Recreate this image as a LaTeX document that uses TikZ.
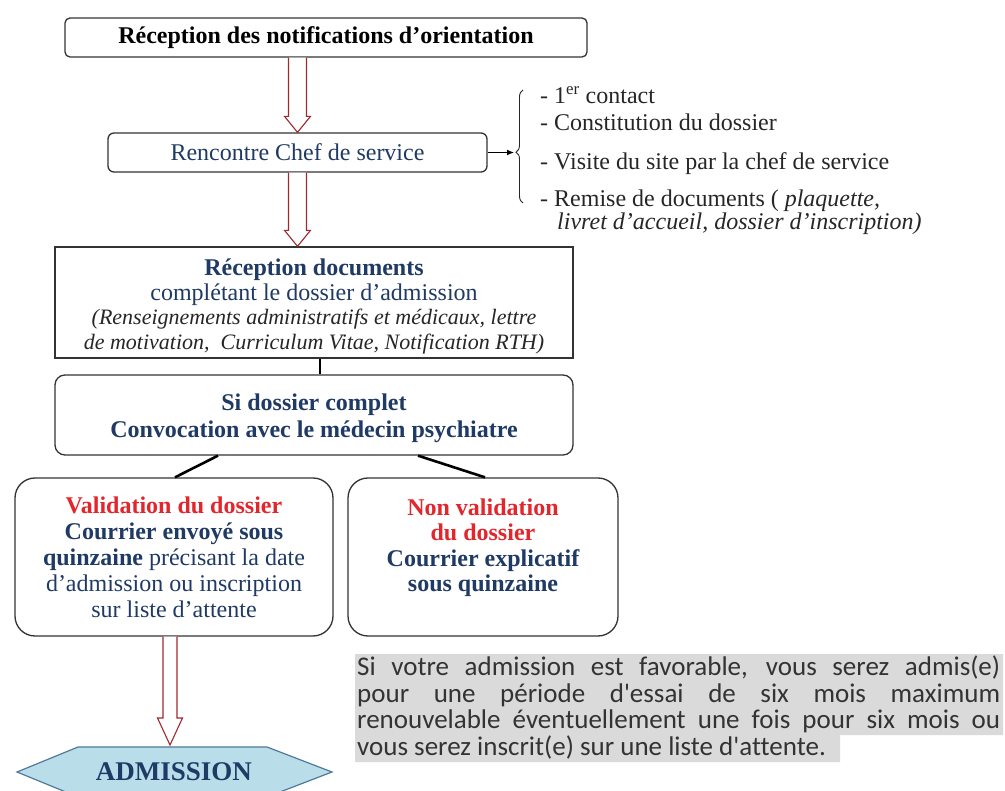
\documentclass[tikz,border=0pt]{standalone}
\usepackage{fontspec}
\setmainfont{Liberation Serif}
\newfontfamily\parafont[Ligatures=NoCommon]{Carlito}
\usetikzlibrary{arrows.meta,decorations.pathreplacing,calc}
\definecolor{txtblue}{HTML}{1F3A64}
\definecolor{txtred}{HTML}{E2262C}
\definecolor{arrred}{HTML}{9E2A2F}
\definecolor{hexfill}{HTML}{B9DEEA}
\definecolor{hexline}{HTML}{4F7A9A}
\definecolor{paragrey}{HTML}{DADADA}
\definecolor{boxline}{HTML}{333333}
\newcommand\hollowarrow[5]{%
  \draw[hollow] let \p1=(#1), \p2=(#2) in
    (\x2-#3pt,\y1) -- (\x2-#3pt,\y2+#5pt) -- (\x2-#4pt,\y2+#5pt) -- (\x2,\y2)
    -- (\x2+#4pt,\y2+#5pt) -- (\x2+#3pt,\y2+#5pt) -- (\x2+#3pt,\y1);}
\begin{document}
\begin{tikzpicture}[x=1pt,y=-1pt,
  box/.style={draw=boxline, line width=1.3pt, fill=white, inner sep=0pt, align=center},
  big/.style={font=\fontsize{24}{26}\selectfont},
  intext/.style={inner sep=0pt, align=center},
  hollow/.style={draw=arrred, line width=1.1pt, fill=white, line join=miter},
  link/.style={draw=black, line width=2.6pt},
  listtxt/.style={anchor=west, inner sep=0pt, text=black!85, font=\fontsize{24}{26}\selectfont},
]
\useasboundingbox (0,0) rectangle (1005,791);
\clip (0,0) rectangle (1005,791);

% boxes
\node[box, rounded corners=5pt, minimum width=522pt, minimum height=39pt, big] (top) at (326,37.5)
  {\bfseries Réception des notifications d’orientation};
\node[box, rounded corners=6pt, minimum width=379pt, minimum height=39pt, big, text=txtblue] (ren) at (297.5,152.5)
  {Rencontre Chef de service};

\node[box, minimum width=518pt, minimum height=111pt] (rec) at (314,302.5) {};
\node[intext, text=txtblue, font=\fontsize{24}{24.5}\selectfont] (rect) at ($(rec.center)+(0,4)$)
  {\bfseries Réception documents\\
   complétant le dossier d’admission\\
   {\color{black!85}\fontsize{22}{24.5}\selectfont\itshape (Renseignements administratifs et médicaux, lettre}\\
   {\color{black!85}\fontsize{22}{24.5}\selectfont\itshape de motivation,\ \ Curriculum Vitae, Notification RTH)}};

\node[box, rounded corners=10pt, minimum width=518pt, minimum height=80pt] (sid) at (314,415) {};
\node[intext, text=txtblue, font=\bfseries\fontsize{24}{27}\selectfont] (sidt) at ($(sid.center)+(0,3)$)
  {Si dossier complet\\ Convocation avec le médecin psychiatre};

\node[box, rounded corners=20pt, minimum width=318pt, minimum height=158pt, big, text=txtblue] (val) at (174,557)
  {{\color{txtred}\bfseries Validation du dossier}\\
   {\bfseries Courrier envoyé sous}\\
   {\bfseries quinzaine} précisant la date\\
   d’admission ou inscription\\
   sur liste d’attente};

\node[box, rounded corners=20pt, minimum width=270pt, minimum height=158pt] (non) at (483,557) {};
\node[intext, anchor=north, text=txtblue, font=\bfseries\fontsize{24}{25.5}\selectfont] (nont) at ($(non.north)+(0,21)$)
  {{\color{txtred}Non validation}\\
   {\color{txtred}du dossier}\\
   Courrier explicatif\\
   sous quinzaine};

% hexagon
\coordinate (hexc) at (174,772);
\draw[fill=hexfill, draw=hexline, line width=1.2pt]
  ($(hexc)+(-157,0)$) -- ($(hexc)+(-96,-25)$) -- ($(hexc)+(93,-25)$) -- ($(hexc)+(158,0)$)
  -- ($(hexc)+(93,25)$) -- ($(hexc)+(-96,25)$) -- cycle;
\node[inner sep=0pt, text=txtblue, font=\bfseries\fontsize{27}{28}\selectfont] (hex) at (hexc) {ADMISSION};
\coordinate (hextop) at ($(hexc)+(-4,-27)$);

% hollow arrows
\coordinate (t2) at (ren.south |- rec.north);
\hollowarrow{top.south}{ren.north}{9}{13}{16}
\hollowarrow{ren.south}{t2}{9}{13}{16}
\hollowarrow{val.south}{hextop}{7}{12.5}{27}

% links
\draw[link] ($(rec.south)+(6,0)$) -- ($(sid.north)+(6,0)$);
\draw[link] ($(sid.south)+(-96,0)$) -- ($(val.north)+(1,0)$);
\draw[link] ($(sid.south)+(104,0)$) -- ($(non.north)+(2,0)$);

% brace and list
\coordinate (bt) at (523,90);
\coordinate (bb) at (523,203);
\coordinate (bracetip) at (514,152.5);
\draw[line width=0.9pt, black!85, decorate, decoration={brace, amplitude=7pt, aspect=0.45}] (bb) -- (bt);
\draw[line width=1.1pt, -{Latex[length=7pt,width=6pt]}] (ren.east) -- (bracetip);
\node[listtxt] (l1) at (540,95) {- 1\textsuperscript{er} contact};
\node[listtxt] (l2) at (540,122) {- Constitution du dossier};
\node[listtxt] (l3) at (540,164) {- Visite du site par la chef de service};
\node[listtxt] (l4) at (540,201) {- Remise de documents (\ \textit{plaquette,}};
\node[listtxt, font=\itshape\fontsize{24}{26}\selectfont] (l5) at (557,224) {livret d'accueil, dossier d'inscription)};

% paragraph
\fill[paragrey] (355,654) -- (1003,654) -- (1003,735) -- (840,735) -- (840,762) -- (355,762) -- cycle;
\node[anchor=north west, inner sep=0pt, text width=643pt, align=justify, text=black!80,
      font=\parafont\fontsize{27}{26.5}\selectfont] (para) at (357,656)
  {Si votre admission est favorable, vous serez admis(e)\linebreak
   pour une période d'essai de six mois maximum\linebreak
   renouvelable éventuellement une fois pour six mois ou\linebreak
   vous serez inscrit(e) sur une liste d'attente.};
\end{tikzpicture}
\end{document}
